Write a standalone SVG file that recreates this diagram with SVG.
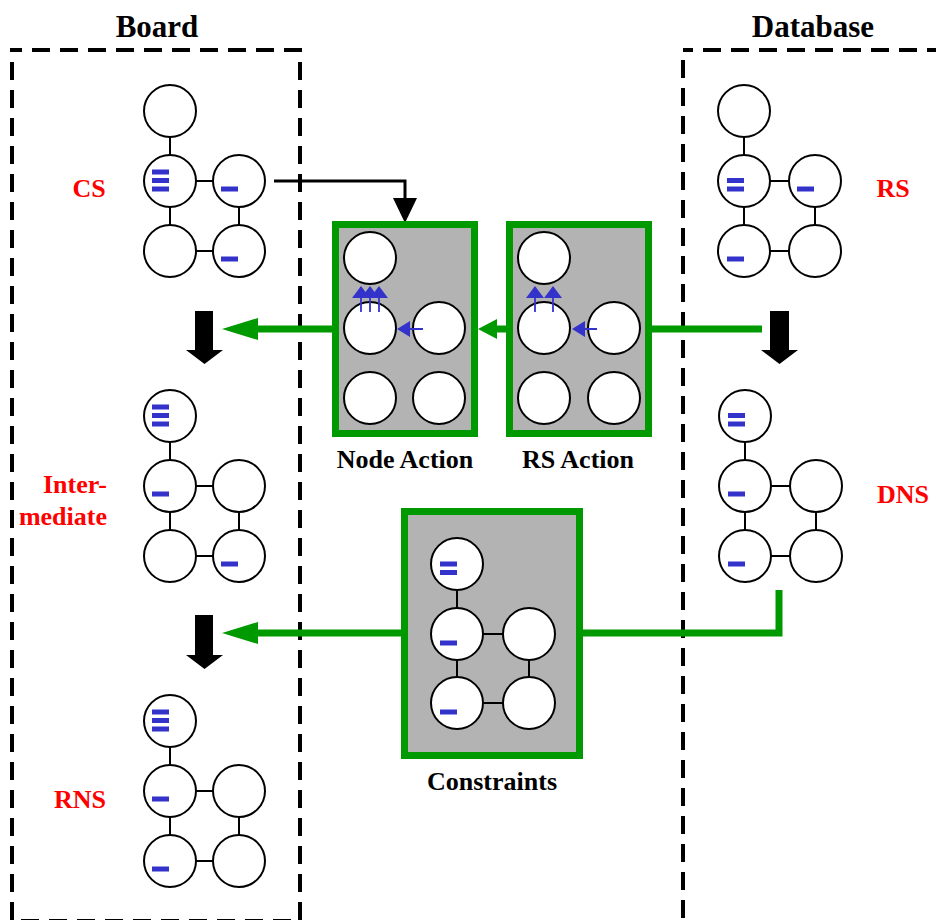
<svg xmlns="http://www.w3.org/2000/svg" width="936" height="920" viewBox="0 0 936 920">
<style>
.frame{fill:none;stroke:#000;stroke-width:4;stroke-dasharray:18 10;stroke-dashoffset:8}
.n{fill:#fff;stroke:#000;stroke-width:2}
.e{stroke:#000;stroke-width:2}
.m{fill:#3333cc}
.ba{stroke:#3333cc;stroke-width:1.8;fill:none}
.bh{fill:#3333cc}
.g{stroke:#009900;stroke-width:7;fill:none}
.gh{fill:#009900}
.box{fill:#b3b3b3;stroke:#009900;stroke-width:7}
.hdr{font-family:"Liberation Serif",serif;font-weight:bold;font-size:31px;fill:#000;text-anchor:middle}
.lbl{font-family:"Liberation Serif",serif;font-weight:bold;font-size:26px;fill:#000;text-anchor:middle}
.red{fill:#ff0000}
</style>
<defs>
<g id="bar"><rect x="-18" y="-2.5" width="17" height="5" class="m"/></g>
</defs>

<g id="board">
<rect class="frame" x="12" y="50" width="288" height="871"/>
<text class="hdr" x="157" y="37">Board</text>
</g>
<g id="database">
<rect class="frame" x="683" y="50" width="300" height="900"/>
<text class="hdr" x="813" y="37">Database</text>
</g>

<g id="connectors">
<path d="M274,181 H405 V199" fill="none" stroke="#000" stroke-width="3"/>
<polygon points="393,198 417,198 405,223" fill="#000"/>
<line class="g" x1="762" y1="329" x2="652" y2="329"/>
<line class="g" x1="506" y1="329" x2="495" y2="329"/>
<polygon class="gh" points="478,329 497,319 497,339"/>
<line class="g" x1="332" y1="329" x2="256" y2="329"/>
<polygon class="gh" points="222,329 258,318 258,340"/>
<path class="g" d="M779,590 V633 H583"/>
<line class="g" x1="401" y1="633" x2="256" y2="633"/>
<polygon class="gh" points="222,633 258,622 258,644"/>
<polygon points="195,311 213,311 213,350 223,350 204.5,364 186,350 195,350" fill="#000"/>
<polygon points="195,615 213,615 213,655 223,655 204.5,669 186,655 195,655" fill="#000"/>
<polygon points="770,311 789,311 789,350 798,350 779.5,364 761,350 770,350" fill="#000"/>
</g>

<g id="cs">
<line class="e" x1="170" y1="111" x2="170" y2="251"/>
<line class="e" x1="170" y1="181" x2="239" y2="181"/>
<line class="e" x1="239" y1="181" x2="239" y2="251"/>
<line class="e" x1="170" y1="251" x2="239" y2="251"/>
<circle class="n" cx="170" cy="111" r="26"/>
<circle class="n" cx="170" cy="181" r="26"/>
<circle class="n" cx="239" cy="181" r="26"/>
<circle class="n" cx="170" cy="251" r="26"/>
<circle class="n" cx="239" cy="251" r="26"/>
<use href="#bar" x="170" y="172"/><use href="#bar" x="170" y="180.5"/><use href="#bar" x="170" y="189"/>
<use href="#bar" x="239" y="189"/>
<use href="#bar" x="239" y="259"/>
<text class="lbl red" x="89" y="197">CS</text>
</g>

<g id="intermediate">
<line class="e" x1="170" y1="416" x2="170" y2="556"/>
<line class="e" x1="170" y1="486" x2="239" y2="486"/>
<line class="e" x1="239" y1="486" x2="239" y2="556"/>
<line class="e" x1="170" y1="556" x2="239" y2="556"/>
<circle class="n" cx="170" cy="416" r="26"/>
<circle class="n" cx="170" cy="486" r="26"/>
<circle class="n" cx="239" cy="486" r="26"/>
<circle class="n" cx="170" cy="556" r="26"/>
<circle class="n" cx="239" cy="556" r="26"/>
<use href="#bar" x="170" y="407"/><use href="#bar" x="170" y="415.5"/><use href="#bar" x="170" y="424"/>
<use href="#bar" x="170" y="494"/>
<use href="#bar" x="239" y="564"/>
<text class="lbl red" x="107" y="493" style="text-anchor:end">Inter-</text>
<text class="lbl red" x="107" y="525" style="text-anchor:end">mediate</text>
</g>

<g id="rns">
<line class="e" x1="170" y1="721" x2="170" y2="861"/>
<line class="e" x1="170" y1="791" x2="239" y2="791"/>
<line class="e" x1="239" y1="791" x2="239" y2="861"/>
<line class="e" x1="170" y1="861" x2="239" y2="861"/>
<circle class="n" cx="170" cy="721" r="26"/>
<circle class="n" cx="170" cy="791" r="26"/>
<circle class="n" cx="239" cy="791" r="26"/>
<circle class="n" cx="170" cy="861" r="26"/>
<circle class="n" cx="239" cy="861" r="26"/>
<use href="#bar" x="170" y="712"/><use href="#bar" x="170" y="720.5"/><use href="#bar" x="170" y="729"/>
<use href="#bar" x="170" y="799"/>
<use href="#bar" x="170" y="869"/>
<text class="lbl red" x="80" y="808">RNS</text>
</g>

<g id="rs">
<line class="e" x1="744" y1="111" x2="744" y2="251"/>
<line class="e" x1="744" y1="181" x2="815" y2="181"/>
<line class="e" x1="815" y1="181" x2="815" y2="251"/>
<line class="e" x1="744" y1="251" x2="815" y2="251"/>
<circle class="n" cx="744" cy="111" r="26"/>
<circle class="n" cx="744" cy="181" r="26"/>
<circle class="n" cx="815" cy="181" r="26"/>
<circle class="n" cx="744" cy="251" r="26"/>
<circle class="n" cx="815" cy="251" r="26"/>
<use href="#bar" x="745" y="180.5"/><use href="#bar" x="745" y="189"/>
<use href="#bar" x="815" y="189"/>
<use href="#bar" x="745" y="259"/>
<text class="lbl red" x="893" y="197">RS</text>
</g>

<g id="dns">
<line class="e" x1="745" y1="416" x2="745" y2="556"/>
<line class="e" x1="745" y1="486" x2="816" y2="486"/>
<line class="e" x1="816" y1="486" x2="816" y2="556"/>
<line class="e" x1="745" y1="556" x2="816" y2="556"/>
<circle class="n" cx="745" cy="416" r="26"/>
<circle class="n" cx="745" cy="486" r="26"/>
<circle class="n" cx="816" cy="486" r="26"/>
<circle class="n" cx="745" cy="556" r="26"/>
<circle class="n" cx="816" cy="556" r="26"/>
<use href="#bar" x="746" y="415.5"/><use href="#bar" x="746" y="424"/>
<use href="#bar" x="746" y="494"/>
<use href="#bar" x="746" y="564"/>
<text class="lbl red" x="903" y="503">DNS</text>
</g>

<g id="node-action">
<rect class="box" x="335.5" y="224.5" width="139" height="209"/>
<circle class="n" cx="370" cy="258" r="26"/>
<circle class="n" cx="370" cy="328" r="26"/>
<circle class="n" cx="439" cy="328" r="26"/>
<circle class="n" cx="370" cy="398" r="26"/>
<circle class="n" cx="439" cy="398" r="26"/>
<path class="ba" d="M361,312 V296 M370,312 V296 M379,312 V296 M423,329 H408"/>
<polygon class="bh" points="361,286 352,298 370,298"/>
<polygon class="bh" points="370,286 361,298 379,298"/>
<polygon class="bh" points="379,286 370,298 388,298"/>
<polygon class="bh" points="397,329 410,321 410,337"/>
<text class="lbl" x="405" y="468">Node Action</text>
</g>

<g id="rs-action">
<rect class="box" x="509.5" y="224.5" width="139" height="209"/>
<circle class="n" cx="544" cy="258" r="26"/>
<circle class="n" cx="544" cy="328" r="26"/>
<circle class="n" cx="614" cy="328" r="26"/>
<circle class="n" cx="544" cy="398" r="26"/>
<circle class="n" cx="614" cy="398" r="26"/>
<path class="ba" d="M535,312 V296 M553,312 V296 M597,329 H583"/>
<polygon class="bh" points="535,286 526,298 544,298"/>
<polygon class="bh" points="553,286 544,298 562,298"/>
<polygon class="bh" points="572,329 585,321 585,337"/>
<text class="lbl" x="578" y="468">RS Action</text>
</g>

<g id="constraints">
<rect class="box" x="404.5" y="511.5" width="175" height="244"/>
<line class="e" x1="457" y1="564" x2="457" y2="703"/>
<line class="e" x1="457" y1="634" x2="529" y2="634"/>
<line class="e" x1="529" y1="634" x2="529" y2="703"/>
<line class="e" x1="457" y1="703" x2="529" y2="703"/>
<circle class="n" cx="457" cy="564" r="26"/>
<circle class="n" cx="457" cy="634" r="26"/>
<circle class="n" cx="529" cy="634" r="26"/>
<circle class="n" cx="457" cy="703" r="26"/>
<circle class="n" cx="529" cy="703" r="26"/>
<use href="#bar" x="458" y="564"/><use href="#bar" x="458" y="572.5"/>
<use href="#bar" x="458" y="643"/>
<use href="#bar" x="458" y="712"/>
<text class="lbl" x="492" y="790">Constraints</text>
</g>
</svg>
